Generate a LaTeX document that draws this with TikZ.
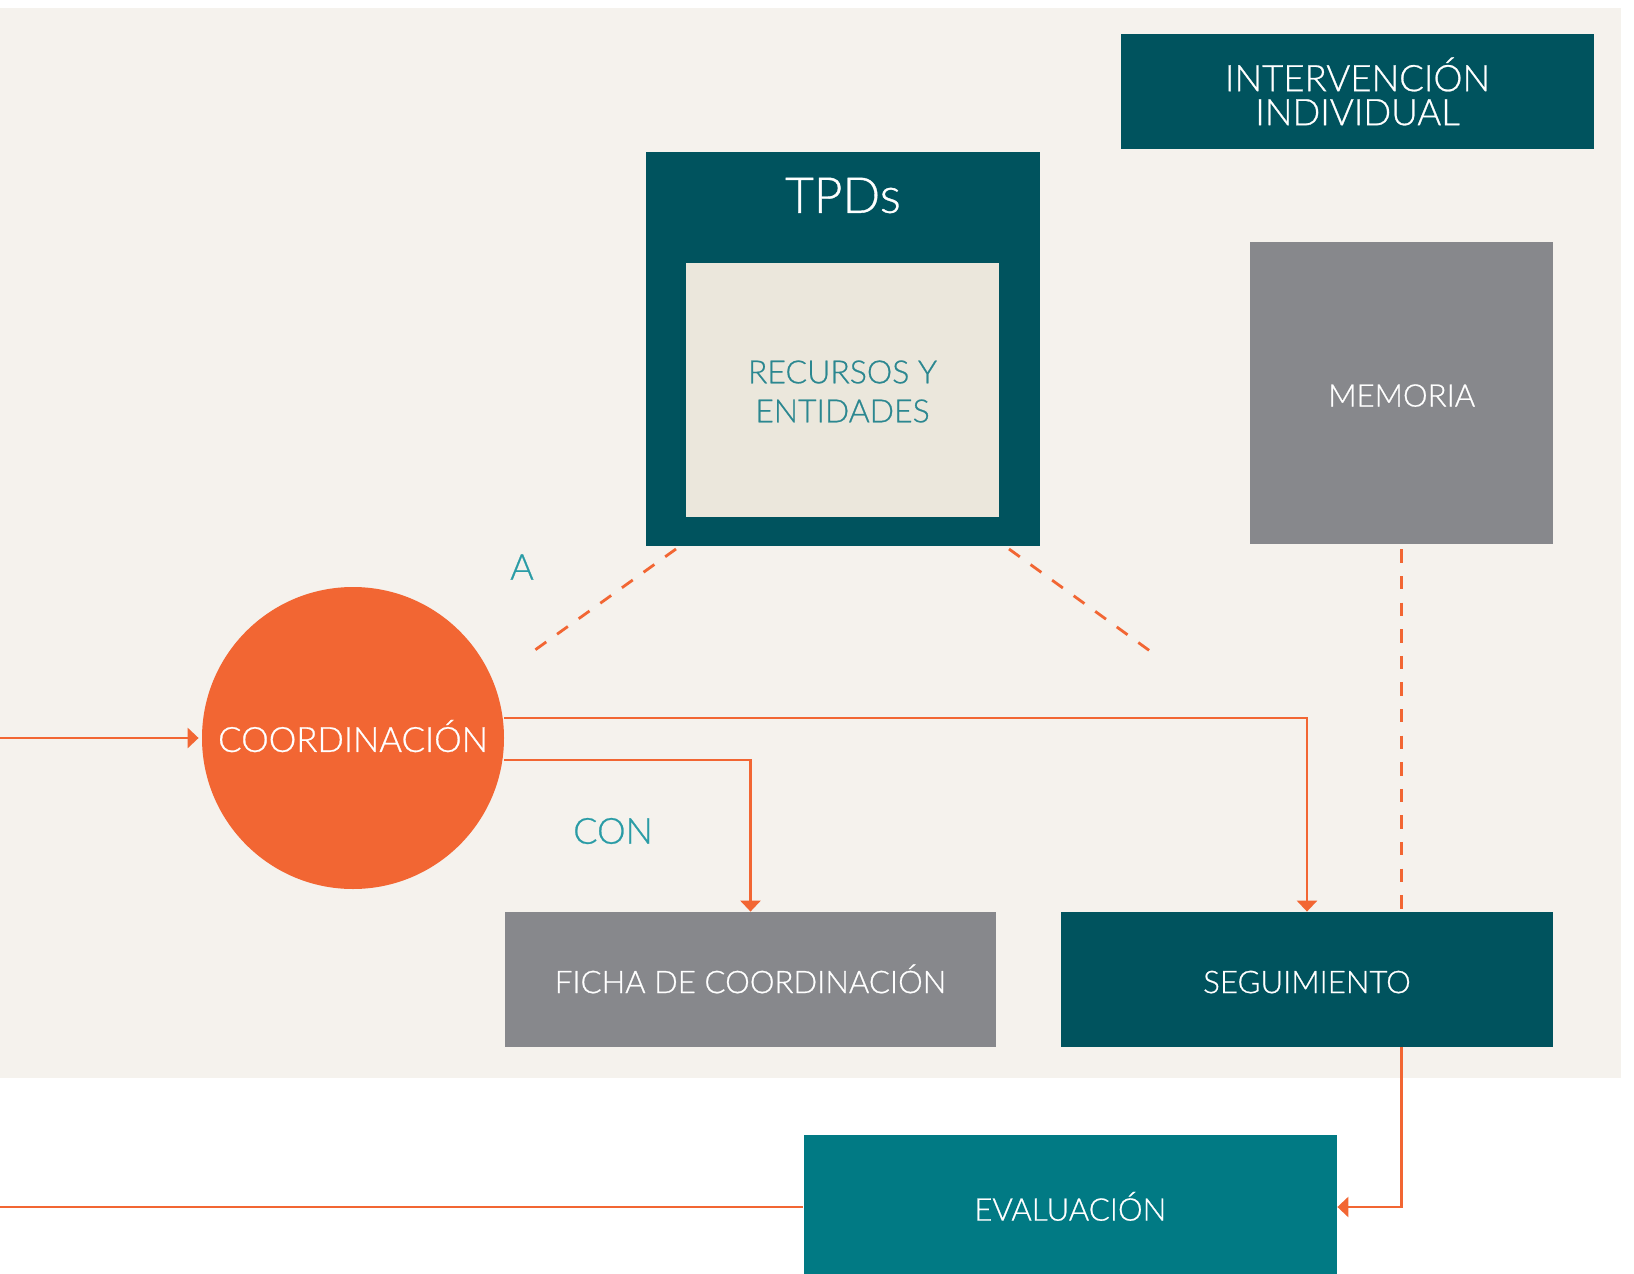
\documentclass[tikz,border=0pt]{standalone}
\usepackage{fontspec}
\setmainfont{Lato}[UprightFont={* Light}, UprightFeatures={FakeBold=0.7}]
\usetikzlibrary{arrows.meta,calc}
\definecolor{bgbeige}{HTML}{F5F2ED}
\definecolor{darkteal}{HTML}{00535E}
\definecolor{evalteal}{HTML}{017A84}
\definecolor{corange}{HTML}{F26633}
\definecolor{cgray}{HTML}{87888C}
\definecolor{innerbeige}{HTML}{EBE7DC}
\definecolor{rectext}{HTML}{2B8790}
\definecolor{lblteal}{HTML}{2A9CA6}
\tikzset{
  boxnode/.style={rectangle, inner sep=0pt, text=white, align=center,
    font=\fontsize{15.6}{19}\selectfont},
  oneline/.style={text height=13.6pt, text depth=0pt},
  flow/.style={draw=corange, line width=1.4pt, -{Triangle[length=5.5pt,width=10pt]}},
  plainline/.style={draw=corange, line width=1.4pt},
  link/.style={draw=corange, line width=1.4pt, dash pattern=on 6.65pt off 6.65pt},
  lbl/.style={text=lblteal, inner sep=0pt, font=\fontsize{18}{20}\selectfont}
}
\begin{document}
\begin{tikzpicture}[x=0.5pt,y=-0.5pt]
\clip (0,0) rectangle (1634,1274);
\fill[white] (0,0) rectangle (1634,1274);
\fill[bgbeige] (0,8) rectangle (1621,1078);

% nodes
\node[boxnode, fill=darkteal, minimum width=236.5pt, minimum height=57.5pt,
  font=\fontsize{18.3}{17}\selectfont] (interv) at (1357.5,91.5) {INTERVENCIÓN\\INDIVIDUAL};
\node[boxnode, fill=darkteal, minimum width=197pt, minimum height=197pt] (tpd) at (843,349) {};
\node[boxnode, text=white, font=\fontsize{24.8}{28}\selectfont] (tpdtitle) at (843,195.5) {TPDs};
\node[boxnode, fill=innerbeige, minimum width=156.5pt, minimum height=127pt] (rec) at (842.5,390) {};
\node[boxnode, text=rectext, font=\fontsize{16}{19.5}\selectfont] (rectxt) at (842.5,391.5) {RECURSOS Y\\ENTIDADES};
\node[boxnode, oneline, fill=cgray, minimum width=151.25pt, minimum height=151pt] (memoria) at (1401.7,393) {MEMORIA};
\node[circle, fill=corange, text=white, inner sep=0pt, minimum size=151pt,
  text height=13.9pt, text depth=0pt,
  font=\fontsize{17.4}{19}\selectfont] (coord) at (353,738) {COORDINACIÓN};
\node[boxnode, oneline, fill=cgray, minimum width=245.5pt, minimum height=67.5pt] (ficha) at (750.5,979.5) {FICHA DE COORDINACIÓN};
\node[boxnode, oneline, fill=darkteal, minimum width=246pt, minimum height=67.5pt] (seg) at (1307,979.5) {SEGUIMIENTO};
\node[boxnode, oneline, fill=evalteal, minimum width=266.75pt, minimum height=72pt] (eval) at (1070.25,1207) {EVALUACIÓN};
\node[lbl] (lblA) at (522,567) {A};
\node[lbl] (lblCON) at (613,831) {CON};

% free ends
\coordinate (inL) at (0,738);
\coordinate (evL) at (0,1207);
\coordinate (dA1) at (676,549);
\coordinate (dA2) at (535,650);
\coordinate (dB1) at (1009,549);
\coordinate (dB2) at (1150,651);

% connectors
\draw[flow, shorten >=1.5pt] (inL) -- (coord.west);
\draw[flow] ([yshift=10pt]coord.east) -| (seg.north);
\draw[flow] ([yshift=-11pt]coord.east) -| (ficha.north);
\draw[link] (dA1) -- (dA2);
\draw[link] (dB1) -- (dB2);
\draw[link] ([yshift=-2.5pt]memoria.south) -- (memoria.south |- seg.north);
\draw[flow] (memoria.south |- seg.south) |- (eval.east);
\draw[plainline] (evL) -- (eval.west);
\end{tikzpicture}
\end{document}
